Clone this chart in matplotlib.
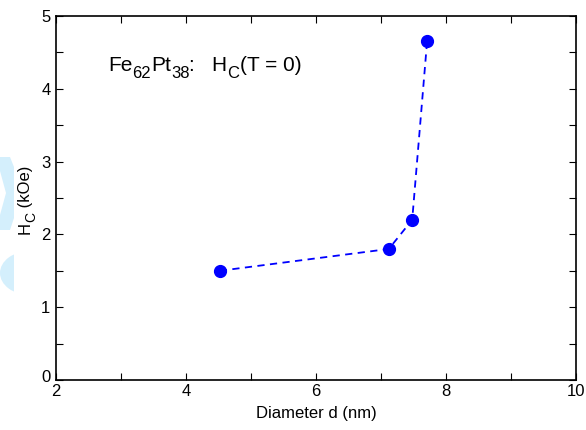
import numpy as np
import matplotlib
matplotlib.use("Agg")
import matplotlib.pyplot as plt
import matplotlib.transforms as mtransforms
from matplotlib.patches import Polygon, Circle, Rectangle

# Coercivity at T = 0 vs particle diameter
diameter_nm = [4.52, 7.12, 7.48, 7.71]
hc_koe = [1.50, 1.80, 2.20, 4.66]

plt.rcParams.update({
    "font.family": "Liberation Sans",
    "font.size": 12,
})

W, H = 586, 430
fig = plt.figure(figsize=(W / 100, H / 100), dpi=100)
ax = fig.add_axes([56 / W, 1 - 380 / H, 520 / W, 364 / H])

# light cyan watermark at the left edge (figure pixel coords)
def px(x, y):
    return (x / W, 1 - y / H)

wm = "#d4effc"
chevron = [px(0, 157), px(10, 157), px(14, 167), px(14, 218), px(10, 230),
           px(0, 230), px(0, 215), px(6, 193), px(0, 171)]
fig.add_artist(Polygon(chevron, closed=True, transform=fig.transFigure,
                       facecolor=wm, edgecolor="none", zorder=0))
clip = Rectangle(px(0, 310), 14 / W, 80 / H, transform=fig.transFigure)
circ = Circle(px(30, 273), 30 / W, transform=fig.transFigure,
              facecolor=wm, edgecolor="none", zorder=0)
fig.add_artist(circ)
circ.set_clip_path(clip)

ax.plot(diameter_nm, hc_koe, color="#0000ff", linestyle="--", linewidth=1.3,
        dashes=(4, 3), marker="o", markersize=8.5, markeredgecolor="#0000ff")

ax.set_xlim(2, 10)
ax.set_ylim(0, 5)
ax.set_xticks([2, 4, 6, 8, 10])
ax.set_xticks([3, 5, 7, 9], minor=True)
ax.set_yticks([0, 1, 2, 3, 4, 5])
ax.set_yticks([0.5, 1.5, 2.5, 3.5, 4.5], minor=True)
ax.tick_params(which="both", direction="in", top=True, right=True,
               length=5, width=0.8, labelsize=12)
ax.tick_params(axis="x", pad=3)
ax.tick_params(axis="y", pad=4)
for s in ax.spines.values():
    s.set_linewidth(1.2)

# the "0" on the y axis sits a little above its tick
fig.canvas.draw()
ylab0 = ax.get_yticklabels()[0]
ylab0.set_transform(ylab0.get_transform()
                    + mtransforms.ScaledTranslation(0, 4 / 100, fig.dpi_scale_trans))

ax.set_xlabel("Diameter d (nm)", fontsize=12, labelpad=5)

renderer = fig.canvas.get_renderer()

# y label pieces, rotated, with a low subscript
ylabel_pieces = [("H", 12, 0), ("C", 10, 3.5), (" (kOe)", 12, 0)]
adv = 0.0
bx, by = px(30, 234)
for s, size, drop in ylabel_pieces:
    tr = mtransforms.offset_copy(fig.transFigure, fig=fig, x=drop, y=adv, units="points")
    t = fig.text(bx, by, s, transform=tr, fontsize=size, rotation=90,
                 rotation_mode="anchor", ha="left", va="baseline")
    adv += t.get_window_extent(renderer).height * 72 / fig.dpi

# annotation built piece by piece so subscripts sit low like the original
pieces = [("Fe", 15, 0), ("62", 12, -5.5), ("Pt", 15, 0), ("38", 12, -5.5),
          (":   H", 15, 0), ("C", 12, -5.5), ("(T = 0)", 15, 0)]
x0, y0 = 0.10, 0.85
dx = 0.0
for s, size, dy in pieces:
    tr = mtransforms.offset_copy(ax.transAxes, fig=fig, x=dx, y=dy, units="points")
    t = ax.text(x0, y0, s, transform=tr, fontsize=size, ha="left", va="baseline")
    dx += t.get_window_extent(renderer).width * 72 / fig.dpi

fig.savefig("out.png", dpi=100)
